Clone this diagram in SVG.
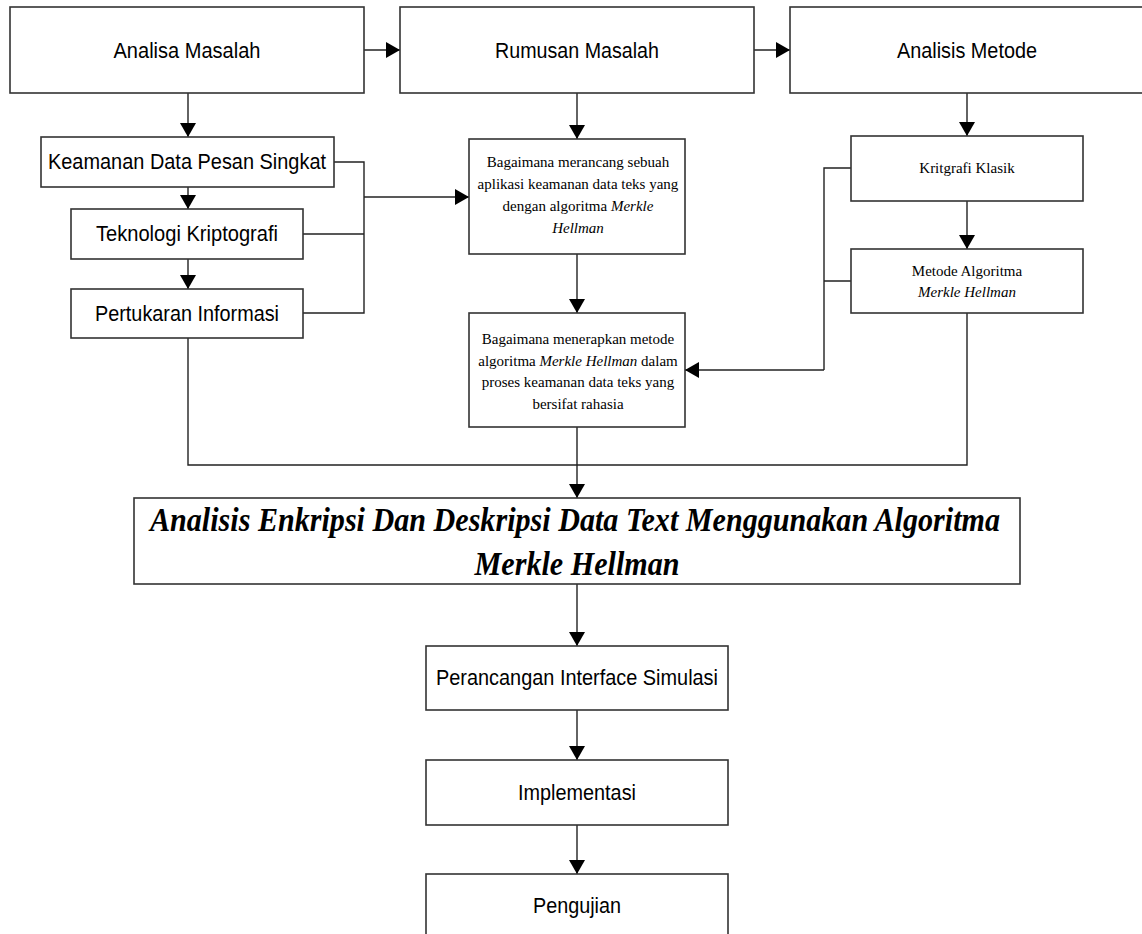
<svg xmlns="http://www.w3.org/2000/svg" width="1142" height="934" viewBox="0 0 1142 934">
<style>
.box{fill:#fff;stroke:#333;stroke-width:1.6}
.ln{fill:none;stroke:#222;stroke-width:1.4}
.sans{font-family:"Liberation Sans",Arial,sans-serif;font-size:22px;fill:#000;text-anchor:middle}
.serif{font-family:"Liberation Serif","Times New Roman",serif;font-size:15px;fill:#000;text-anchor:middle}
.big{font-family:"Liberation Serif","Times New Roman",serif;font-size:33px;font-weight:bold;font-style:italic;fill:#000;text-anchor:middle}
</style>
<defs>
<marker id="arr" viewBox="0 0 14 16" refX="14" refY="8" markerWidth="14" markerHeight="16" orient="auto" markerUnits="userSpaceOnUse"><path d="M0,0 L14,8 L0,16 z" fill="#000"/></marker>
</defs>
<rect width="1142" height="934" fill="#fff"/>
<g id="connectors">
<path class="ln" d="M364,50 H400" marker-end="url(#arr)"/>
<path class="ln" d="M754,50 H790" marker-end="url(#arr)"/>
<path class="ln" d="M188,93 V137" marker-end="url(#arr)"/>
<path class="ln" d="M577,93 V139" marker-end="url(#arr)"/>
<path class="ln" d="M967,93 V136" marker-end="url(#arr)"/>
<path class="ln" d="M188,187 V209" marker-end="url(#arr)"/>
<path class="ln" d="M188,259 V289" marker-end="url(#arr)"/>
<path class="ln" d="M334,162 H364 V313 H303 M303,234 H364"/>
<path class="ln" d="M364,197 H469" marker-end="url(#arr)"/>
<path class="ln" d="M577,254 V313" marker-end="url(#arr)"/>
<path class="ln" d="M967,201 V249" marker-end="url(#arr)"/>
<path class="ln" d="M851,168 H824 V370 M824,281 H851"/>
<path class="ln" d="M824,370 H685" marker-end="url(#arr)"/>
<path class="ln" d="M188,338 V465 H967 V313"/>
<path class="ln" d="M577,427 V498" marker-end="url(#arr)"/>
<path class="ln" d="M577,584 V646" marker-end="url(#arr)"/>
<path class="ln" d="M577,710 V760" marker-end="url(#arr)"/>
<path class="ln" d="M577,825 V874" marker-end="url(#arr)"/>
</g>
<g id="analisa-masalah"><rect class="box" x="10" y="7" width="354" height="86"/><text class="sans" x="187" y="58" textLength="147" lengthAdjust="spacingAndGlyphs">Analisa Masalah</text></g>
<g id="rumusan-masalah"><rect class="box" x="400" y="7" width="354" height="86"/><text class="sans" x="577" y="58" textLength="164" lengthAdjust="spacingAndGlyphs">Rumusan Masalah</text></g>
<g id="analisis-metode"><rect class="box" x="790" y="7" width="360" height="86"/><text class="sans" x="967" y="58" textLength="140" lengthAdjust="spacingAndGlyphs">Analisis Metode</text></g>
<g id="keamanan"><rect class="box" x="41" y="137" width="293" height="50"/><text class="sans" x="187" y="169" textLength="278" lengthAdjust="spacingAndGlyphs">Keamanan Data Pesan Singkat</text></g>
<g id="teknologi"><rect class="box" x="71" y="209" width="232" height="50"/><text class="sans" x="187" y="241" textLength="182" lengthAdjust="spacingAndGlyphs">Teknologi Kriptografi</text></g>
<g id="pertukaran"><rect class="box" x="71" y="289" width="232" height="49"/><text class="sans" x="187" y="321" textLength="184" lengthAdjust="spacingAndGlyphs">Pertukaran Informasi</text></g>
<g id="rumusan-1"><rect class="box" x="469" y="139" width="216" height="115"/>
<text class="serif" x="578" y="167">Bagaimana merancang sebuah</text>
<text class="serif" x="578" y="189">aplikasi keamanan data teks yang</text>
<text class="serif" x="578" y="211">dengan algoritma <tspan font-style="italic">Merkle</tspan></text>
<text class="serif" x="578" y="233" font-style="italic">Hellman</text></g>
<g id="rumusan-2"><rect class="box" x="469" y="313" width="216" height="114"/>
<text class="serif" x="578" y="344">Bagaimana menerapkan metode</text>
<text class="serif" x="578" y="366">algoritma <tspan font-style="italic">Merkle Hellman</tspan> dalam</text>
<text class="serif" x="578" y="387">proses keamanan data teks yang</text>
<text class="serif" x="578" y="409">bersifat rahasia</text></g>
<g id="kritgrafi"><rect class="box" x="851" y="136" width="232" height="65"/><text class="serif" x="967" y="173">Kritgrafi Klasik</text></g>
<g id="metode-algoritma"><rect class="box" x="851" y="249" width="232" height="64"/>
<text class="serif" x="967" y="276">Metode Algoritma</text>
<text class="serif" x="967" y="297" font-style="italic">Merkle Hellman</text></g>
<g id="judul"><rect class="box" x="134" y="498" width="886" height="86"/>
<text class="big" x="575" y="531" textLength="850" lengthAdjust="spacingAndGlyphs">Analisis Enkripsi Dan Deskripsi Data Text Menggunakan Algoritma</text>
<text class="big" x="577" y="575" textLength="205" lengthAdjust="spacingAndGlyphs">Merkle Hellman</text></g>
<g id="perancangan"><rect class="box" x="426" y="646" width="302" height="64"/><text class="sans" x="577" y="685" textLength="282" lengthAdjust="spacingAndGlyphs">Perancangan Interface Simulasi</text></g>
<g id="implementasi"><rect class="box" x="426" y="760" width="302" height="65"/><text class="sans" x="577" y="800" textLength="118" lengthAdjust="spacingAndGlyphs">Implementasi</text></g>
<g id="pengujian"><rect class="box" x="426" y="874" width="302" height="80"/><text class="sans" x="577" y="913" textLength="88" lengthAdjust="spacingAndGlyphs">Pengujian</text></g>
</svg>
